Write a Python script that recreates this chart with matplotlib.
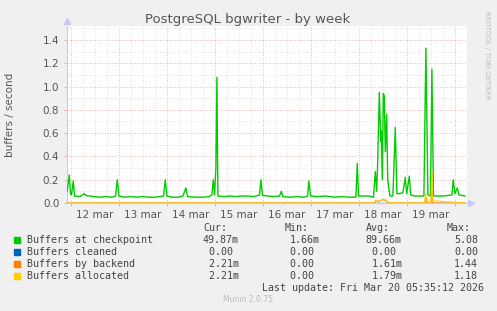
import matplotlib
matplotlib.use("Agg")
import matplotlib.pyplot as plt
from matplotlib.ticker import FixedLocator

# ---- data (x in hours since 12 Mar 00:00) ----
day_labels = ["12 mar", "13 mar", "14 mar", "15 mar", "16 mar", "17 mar", "18 mar", "19 mar"]

chk_t = [-1.8, -0.7, -0.1, 0.4, 1.3, 1.9, 4.6, 6.8, 7.6, 9.6, 11.6, 14.6, 17.6, 20.6, 22.4, 23.3, 24.1,
         27.1, 30.1, 33.1, 36.1, 39.1, 42.1, 44.6, 46.4, 47.3, 48.1, 50.6, 53.6, 56.1, 57.6, 58.4,
         62.1, 66.1, 69.1, 70.6, 71.3, 71.9, 72.6, 73.1, 73.6, 76.6, 79.6, 82.6, 85.6, 88.6, 91.6,
         93.6, 94.4, 95.1, 95.9, 98.6, 101.6, 104.4, 105.3, 106.1, 109.6, 113.1, 116.6, 118.4, 119.1,
         119.9, 123.6, 127.6, 131.6, 135.6, 139.6, 142.6, 143.3, 143.9, 146.6, 149.1, 151.4, 152.3,
         153.0, 153.4, 154.3, 155.0, 155.3, 155.8, 156.3, 156.8, 157.3, 158.0, 158.5, 159.6, 161.1,
         162.3, 163.1, 164.6, 166.1, 167.3, 168.0, 169.3, 170.0, 172.1, 174.6, 176.6, 177.6, 178.6,
         179.9, 180.6, 181.4, 183.6, 186.1, 188.6, 190.6, 191.3, 192.1, 193.3, 194.1, 195.6, 197.1]
chk_v = [0.10, 0.24, 0.08, 0.07, 0.19, 0.06, 0.055, 0.08, 0.065, 0.06, 0.055, 0.05, 0.055, 0.05, 0.06, 0.20, 0.06,
         0.05, 0.055, 0.05, 0.055, 0.05, 0.05, 0.055, 0.06, 0.20, 0.06, 0.05, 0.05, 0.06, 0.13, 0.055,
         0.05, 0.05, 0.055, 0.07, 0.20, 0.07, 0.30, 1.08, 0.06, 0.055, 0.06, 0.055, 0.06, 0.06, 0.055,
         0.065, 0.07, 0.20, 0.065, 0.06, 0.055, 0.06, 0.10, 0.055, 0.05, 0.055, 0.05, 0.06, 0.19,
         0.06, 0.055, 0.06, 0.05, 0.055, 0.05, 0.05, 0.34, 0.06, 0.06, 0.06, 0.05, 0.27,
         0.10, 0.30, 0.95, 0.53, 0.62, 0.20, 0.94, 0.92, 0.44, 0.76, 0.20, 0.06, 0.06,
         0.65, 0.08, 0.08, 0.09, 0.22, 0.08, 0.23, 0.07, 0.06, 0.06, 0.06, 1.33, 0.07,
         0.06, 1.15, 0.06, 0.06, 0.06, 0.065, 0.07, 0.20, 0.08, 0.13, 0.07, 0.065, 0.06]

cln_t = [-1.8, 197.1]
cln_v = [0.0, 0.0]

bke_t = [-1.8, 152.0, 152.5, 154.0, 156.0, 157.5, 159.0, 177.0, 177.5, 178.2, 180.2, 180.6, 181.0, 197.1]
bke_v = [0.0, 0.0, 0.02, 0.01, 0.03, 0.02, 0.0, 0.0, 0.05, 0.0, 0.0, 0.10, 0.0, 0.0]

alc_t = [-1.8, 152.0, 152.5, 153.5, 155.0, 156.3, 157.5, 158.5, 159.0, 177.0, 177.2, 177.6, 178.2,
         180.0, 180.3, 180.6, 181.0, 197.1]
alc_v = [0.0, 0.0, 0.025, 0.015, 0.02, 0.035, 0.03, 0.01, 0.0, 0.0, 0.05, 0.08, 0.02,
         0.0, 0.10, 0.27, 0.02, 0.0]

legend_names = ["Buffers at checkpoint", "Buffers cleaned", "Buffers by backend", "Buffers allocated"]
cur_vals = ["49.87m", " 0.00 ", " 2.21m", " 2.21m"]
min_vals = ["1.66m", "0.00 ", "0.00 ", "0.00 "]
avg_vals = ["89.66m", " 0.00 ", " 1.61m", " 1.79m"]
max_vals = ["5.08", "0.00", "1.44", "1.18"]
colors = ["#00CC00", "#0066B3", "#FF8000", "#FFCC00"]

W, H = 497, 311
fig = plt.figure(figsize=(W / 100, H / 100), dpi=100, facecolor="#F0F0F0")
L, R, T, B = 67, 467, 26, 203
ax = fig.add_axes([L / W, 1 - B / H, (R - L) / W, (B - T) / H])
ax.set_facecolor("white")

ax.set_xlim(-1.85, 198.15)
ax.set_ylim(0, 1.52)

# grid
for h in range(0, 200, 6):
    if h % 24 == 0:
        continue
    ax.axvline(h, color="#d8d8d8", lw=0.6, ls=(0, (1, 2)), zorder=0)
for h in range(0, 200, 24):
    ax.axvline(h, color="#e8a0a0", lw=0.6, ls=(0, (1, 2)), zorder=0.5)
for i in range(1, 16, 2):
    ax.axhline(i / 10, color="#d8d8d8", lw=0.6, ls=(0, (1, 2)), zorder=0)
for i in range(2, 16, 2):
    ax.axhline(i / 10, color="#e8a0a0", lw=0.6, ls=(0, (1, 2)), zorder=0.5)

series = [(chk_t, chk_v), (cln_t, cln_v), (bke_t, bke_v), (alc_t, alc_v)]
for k, ((t, v), c) in enumerate(zip(series, colors)):
    ax.plot(t, v, color=c, lw=1.0, zorder=3, alpha=1.0 if k == 0 else 0.75)

# ticks
ax.set_yticks([i / 10 for i in range(0, 16, 2)])
ax.set_yticklabels(["%.1f" % (i / 10) for i in range(0, 16, 2)])
ax.set_xticks([12 + 24 * k for k in range(8)])
ax.set_xticklabels(day_labels)
ax.xaxis.set_minor_locator(FixedLocator([24 * k for k in range(9)]))
ax.tick_params(axis="both", which="major", labelsize=7.5, labelcolor="#555555")
ax.tick_params(axis="x", which="major", length=0, pad=5)
ax.tick_params(axis="y", which="major", length=2.5, width=0.6, color="#e8a0a0", pad=3)
ax.tick_params(axis="x", which="minor", length=2.5, width=0.6, color="#e8a0a0")

for s in ["top", "right"]:
    ax.spines[s].set_visible(False)
for s in ["left", "bottom"]:
    ax.spines[s].set_color("#c8c8ff")
    ax.spines[s].set_linewidth(0.8)
    ax.spines[s].set_zorder(2)
ax.plot([0], [1.03], marker="^", color="#c8c8ff", ms=5, transform=ax.transAxes, clip_on=False)
ax.plot([1.01], [0], marker=">", color="#c8c8ff", ms=5, transform=ax.transAxes, clip_on=False)

# texts
fig.text(248 / W, 1 - 19 / H, "PostgreSQL bgwriter - by week", ha="center", va="center",
         fontsize=9.5, color="#555555")
fig.text(10 / W, 1 - 115 / H, "buffers / second", rotation=90, ha="center", va="center",
         fontsize=7.5, color="#555555")
fig.text(487 / W, 1 - 55 / H, "RRDTOOL / TOBI OETIKER", rotation=270, ha="center", va="center",
         fontsize=5, color="#bbbbbb")

mono = dict(family="DejaVu Sans Mono", fontsize=7.2, color="#444444", va="center", ha="left")
fig.text(203 / W, 1 - 228 / H, "Cur:", **mono)
fig.text(285 / W, 1 - 228 / H, "Min:", **mono)
fig.text(366 / W, 1 - 228 / H, "Avg:", **mono)
fig.text(447 / W, 1 - 228 / H, "Max:", **mono)
rows_y = [240, 252, 264, 276]
for i in range(4):
    y = 1 - rows_y[i] / H
    fig.patches.append(plt.Rectangle((14 / W, y - 2.7 / H), 5.5 / W, 5.5 / H, color=colors[i],
                                     transform=fig.transFigure, figure=fig))
    fig.text(26.7 / W, y, legend_names[i], **mono)
    fig.text(203 / W, y, cur_vals[i], **mono)
    fig.text(290 / W, y, min_vals[i], **mono)
    fig.text(365.7 / W, y, avg_vals[i], **mono)
    fig.text(454 / W, y, max_vals[i], **mono)
fig.text(261.7 / W, 1 - 288 / H, "Last update: Fri Mar 20 05:35:12 2026", **mono)
fig.text(248 / W, 1 - 300 / H, "Munin 2.0.75", ha="center", va="center", fontsize=5.5, color="#bbbbbb")

fig.savefig("out.png", dpi=100, facecolor=fig.get_facecolor())
